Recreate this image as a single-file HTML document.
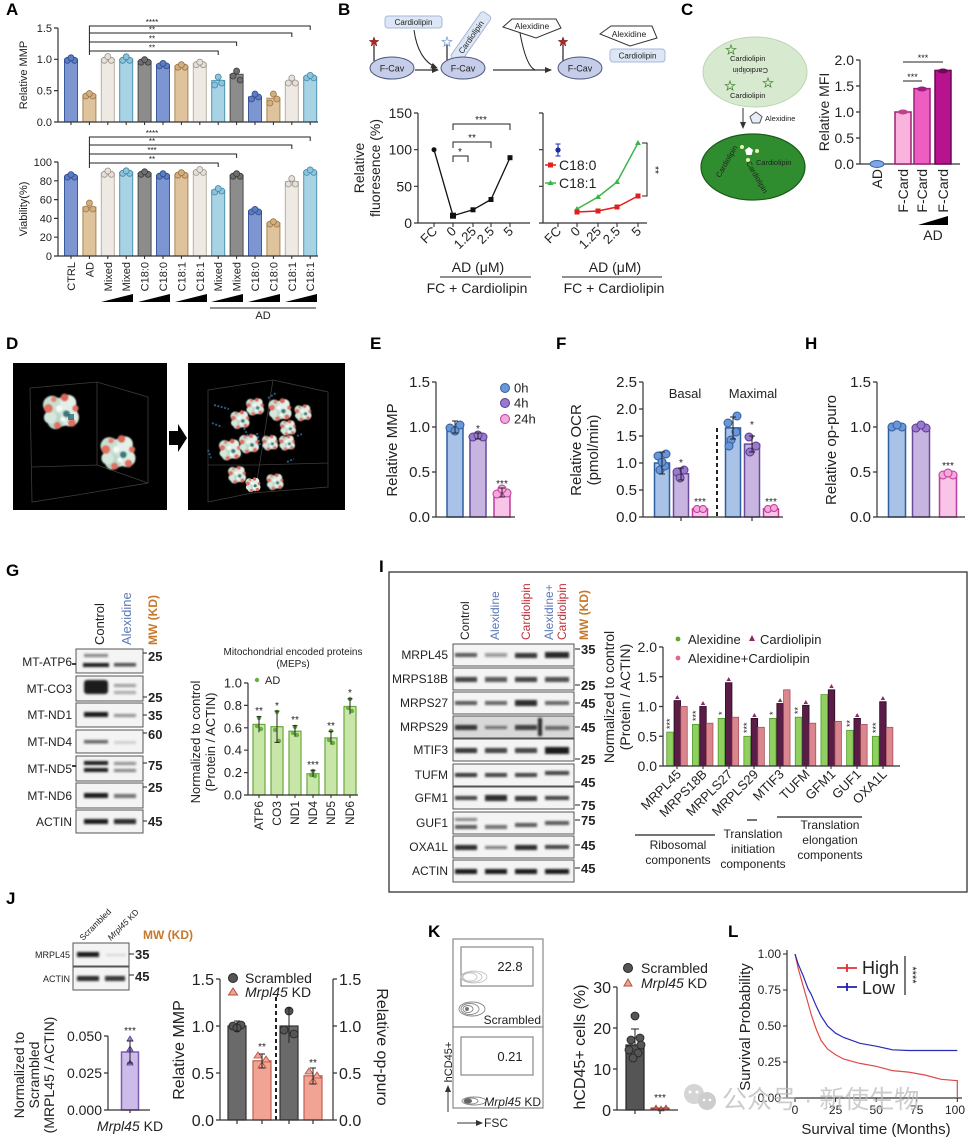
<!DOCTYPE html>
<html><head><meta charset="utf-8">
<style>
html,body{margin:0;padding:0;background:#fff;}
svg{display:block;}
text{font-family:"Liberation Sans","Noto Sans CJK SC",sans-serif;fill:#222;}
.ax{stroke:#333;stroke-width:1.2;fill:none;}
.ln{stroke:#222;stroke-width:1;fill:none;}
.lab{font-weight:bold;font-size:17px;fill:#000;}
.B{fill:#7d95d1;stroke:#3a5a9e;stroke-width:1}
.T{fill:#dfc39d;stroke:#a98552;stroke-width:1}
.W{fill:#efe9e4;stroke:#b8b0a8;stroke-width:1}
.L{fill:#a8d3e5;stroke:#4f93b2;stroke-width:1}
.G{fill:#8c8c8c;stroke:#4d4d4d;stroke-width:1}
.Bd{fill:#5c7cc4;stroke:#2d4a8a;stroke-width:.8}
.Td{fill:#d2ae80;stroke:#9a7444;stroke-width:.8}
.Wd{fill:#e6e0da;stroke:#9a9088;stroke-width:.8}
.Ld{fill:#8cc4dc;stroke:#3f86a6;stroke-width:.8}
.Gd{fill:#6e6e6e;stroke:#3a3a3a;stroke-width:.8}
.eb{fill:#a9c2e8;stroke:#2e5e9e;stroke-width:1.5}
.ep{fill:#c8b4e0;stroke:#6a4a9a;stroke-width:1.5}
.ek{fill:#f8c4e8;stroke:#c03a9a;stroke-width:1.5}
.dbl{fill:#6a96d8;stroke:#2e5e9e;stroke-width:1}
.dpu{fill:#9a7ad0;stroke:#5a3a8a;stroke-width:1}
.dpk{fill:#f4a8dc;stroke:#c03a9a;stroke-width:1}
.gb{fill:#c8e6a8;stroke:#6aa83a;stroke-width:1.2}
.gd{fill:#6ab040;stroke:none}
.ig{fill:#8fd060;stroke:#4f9a2a;stroke-width:.8}
.ip{fill:#5a1d48;stroke:#2a0820;stroke-width:.8}
.ik{fill:#d9868e;stroke:#a8505c;stroke-width:.8}
.blot{fill:#f4f4f4;stroke:#555;stroke-width:1}
.band{fill:#1a1a1a;}
.mw{fill:#c8782a;font-weight:bold;}
</style></head>
<body>
<svg width="974" height="1140" viewBox="0 0 974 1140" xmlns="http://www.w3.org/2000/svg" xmlns:xlink="http://www.w3.org/1999/xlink">
<defs>
<filter id="bl" x="-20%" y="-50%" width="140%" height="200%"><feGaussianBlur stdDeviation="1"/></filter>
<filter id="bl2" x="-30%" y="-30%" width="160%" height="160%"><feGaussianBlur stdDeviation=".5"/></filter>
<marker id="ah" markerWidth="8" markerHeight="8" refX="6" refY="4" orient="auto" markerUnits="userSpaceOnUse"><path d="M0,1 L7,4 L0,7 Z" fill="#333"/></marker>
<g id="blob" filter="url(#bl2)">
<circle cx="0" cy="0" r="8" fill="#cfe5d8"/>
<circle cx="-5" cy="-4" r="5" fill="#c8e0d3"/>
<circle cx="5" cy="3" r="5" fill="#dcede3"/>
<circle cx="-3" cy="5" r="4.5" fill="#bcd7c9"/>
<circle cx="4" cy="-5" r="4.5" fill="#e2f0e8"/>
<circle cx="-6" cy="3" r="3.5" fill="#d4e8dc"/>
<circle cx="-7" cy="-2" r="2.5" fill="#e07060"/>
<circle cx="6" cy="6" r="2.2" fill="#e07060"/>
<circle cx="2" cy="-8" r="2.2" fill="#d8685a"/>
<circle cx="-2" cy="7.5" r="2" fill="#e07060"/>
<circle cx="8" cy="-2" r="1.8" fill="#e07060"/>
<circle cx="-4" cy="-7" r="1.6" fill="#e88070"/>
<circle cx="3" cy="1" r="2" fill="#3a7a7a"/>
<circle cx="-1" cy="-2" r="1.8" fill="#f4faf6"/>
<circle cx="1" cy="4" r="1.4" fill="#f4faf6"/>
</g>
</defs>
<rect width="974" height="1140" fill="#fff"/>

<!-- ================= PANEL A ================= -->
<text class="lab" x="6" y="15">A</text>
<g>
<rect class="B" x="64.5" y="59.3" width="13" height="62.7"/>
<rect class="T" x="82.9" y="95" width="13" height="27"/>
<rect class="W" x="101.3" y="59.3" width="13" height="62.7"/>
<rect class="L" x="119.7" y="59.3" width="13" height="62.7"/>
<rect class="G" x="138.1" y="61.2" width="13" height="60.8"/>
<rect class="B" x="156.5" y="64.9" width="13" height="57.1"/>
<rect class="T" x="174.9" y="66.2" width="13" height="55.8"/>
<rect class="W" x="193.3" y="63.7" width="13" height="58.3"/>
<rect class="L" x="211.7" y="80.6" width="13" height="41.4"/>
<rect class="G" x="230.1" y="74.3" width="13" height="47.7"/>
<rect class="B" x="248.5" y="96.9" width="13" height="25.1"/>
<rect class="T" x="266.9" y="98.2" width="13" height="23.8"/>
<rect class="W" x="285.3" y="81.9" width="13" height="40.1"/>
<rect class="L" x="303.7" y="76.9" width="13" height="45.1"/>
<g>
<circle class="Bd" cx="67.5" cy="60.3" r="3"/><circle class="Bd" cx="74.5" cy="60.3" r="3"/><circle class="Bd" cx="71" cy="57.8" r="3"/>
<circle class="Td" cx="85.9" cy="96" r="3"/><circle class="Td" cx="92.9" cy="96" r="3"/><circle class="Td" cx="89.4" cy="93.5" r="3"/>
<circle class="Wd" cx="104.3" cy="60.3" r="3"/><circle class="Wd" cx="111.3" cy="60.3" r="3"/><circle class="Wd" cx="107.8" cy="56.5" r="3"/>
<circle class="Ld" cx="122.7" cy="60.3" r="3"/><circle class="Ld" cx="129.7" cy="60.3" r="3"/><circle class="Ld" cx="126.2" cy="56.8" r="3"/>
<circle class="Gd" cx="141.1" cy="62.2" r="3"/><circle class="Gd" cx="148.1" cy="62.2" r="3"/><circle class="Gd" cx="144.6" cy="59.7" r="3"/>
<circle class="Bd" cx="159.5" cy="65.9" r="3"/><circle class="Bd" cx="166.5" cy="65.9" r="3"/><circle class="Bd" cx="163" cy="63.4" r="3"/>
<circle class="Td" cx="177.9" cy="67.2" r="3"/><circle class="Td" cx="184.9" cy="67.2" r="3"/><circle class="Td" cx="181.4" cy="64.7" r="3"/>
<circle class="Wd" cx="196.3" cy="64.7" r="3"/><circle class="Wd" cx="203.3" cy="64.7" r="3"/><circle class="Wd" cx="199.8" cy="62.2" r="3"/>
<circle class="Ld" cx="214.7" cy="85" r="3"/><circle class="Ld" cx="221.7" cy="83" r="3"/><circle class="Ld" cx="218.2" cy="77" r="3"/>
<circle class="Gd" cx="233.1" cy="76" r="3"/><circle class="Gd" cx="240.1" cy="80" r="3"/><circle class="Gd" cx="236.6" cy="71" r="3"/>
<circle class="Bd" cx="251.5" cy="99" r="3"/><circle class="Bd" cx="258.5" cy="97" r="3"/><circle class="Bd" cx="255" cy="94" r="3"/>
<circle class="Td" cx="269.9" cy="103" r="3"/><circle class="Td" cx="276.9" cy="99" r="3"/><circle class="Td" cx="273.4" cy="94" r="3"/>
<circle class="Wd" cx="288.3" cy="83" r="3"/><circle class="Wd" cx="295.3" cy="83" r="3"/><circle class="Wd" cx="291.8" cy="78" r="3"/>
<circle class="Ld" cx="306.7" cy="77.9" r="3"/><circle class="Ld" cx="313.7" cy="77.9" r="3"/><circle class="Ld" cx="310.2" cy="75.4" r="3"/>
</g>
<path class="ax" d="M58,28 V122 H318 M54,28 H58 M54,59.3 H58 M54,90.6 H58 M54,122 H58"/>
<path class="ln" d="M71,122v3 M89.4,122v3 M107.8,122v3 M126.2,122v3 M144.6,122v3 M163,122v3 M181.4,122v3 M199.8,122v3 M218.2,122v3 M236.6,122v3 M255,122v3 M273.4,122v3 M291.8,122v3 M310.2,122v3"/>
<g font-size="11" text-anchor="end" fill="#333">
<text x="52" y="32">1.5</text><text x="52" y="63">1.0</text><text x="52" y="94.5">0.5</text><text x="52" y="126">0.0</text>
</g>
<text font-size="11" text-anchor="middle" transform="translate(27,75) rotate(-90)">Relative MMP</text>
<path class="ln" d="M89.4,55 V26 H310.2 V30 M89.4,33 H291.8 V37 M89.4,42 H236.6 V46 M89.4,51 H218.2 V55"/>
<g font-size="8" text-anchor="middle">
<text x="152" y="25">****</text><text x="152" y="32.5">**</text><text x="152" y="41.5">**</text><text x="152" y="50.5">**</text>
</g>
</g>
<g>
<rect class="B" x="64.5" y="176.1" width="13" height="79.9"/>
<rect class="T" x="82.9" y="207.1" width="13" height="48.9"/>
<rect class="W" x="101.3" y="173.3" width="13" height="82.7"/>
<rect class="L" x="119.7" y="172.3" width="13" height="83.7"/>
<rect class="G" x="138.1" y="173.3" width="13" height="82.7"/>
<rect class="B" x="156.5" y="175.2" width="13" height="80.8"/>
<rect class="T" x="174.9" y="174.2" width="13" height="81.8"/>
<rect class="W" x="193.3" y="171.4" width="13" height="84.6"/>
<rect class="L" x="211.7" y="190.2" width="13" height="65.8"/>
<rect class="G" x="230.1" y="175.2" width="13" height="80.8"/>
<rect class="B" x="248.5" y="210.9" width="13" height="45.1"/>
<rect class="T" x="266.9" y="223.1" width="13" height="32.9"/>
<rect class="W" x="285.3" y="181.7" width="13" height="74.3"/>
<rect class="L" x="303.7" y="171.4" width="13" height="84.6"/>
<g>
<circle class="Bd" cx="67.5" cy="177.1" r="3"/><circle class="Bd" cx="74.5" cy="177.1" r="3"/><circle class="Bd" cx="71" cy="174.6" r="3"/>
<circle class="Td" cx="85.9" cy="209" r="3"/><circle class="Td" cx="92.9" cy="209" r="3"/><circle class="Td" cx="89.4" cy="203" r="3"/>
<circle class="Wd" cx="104.3" cy="174.3" r="3"/><circle class="Wd" cx="111.3" cy="174.3" r="3"/><circle class="Wd" cx="107.8" cy="171" r="3"/>
<circle class="Ld" cx="122.7" cy="173.3" r="3"/><circle class="Ld" cx="129.7" cy="173.3" r="3"/><circle class="Ld" cx="126.2" cy="170.8" r="3"/>
<circle class="Gd" cx="141.1" cy="174.3" r="3"/><circle class="Gd" cx="148.1" cy="174.3" r="3"/><circle class="Gd" cx="144.6" cy="171.8" r="3"/>
<circle class="Bd" cx="159.5" cy="176.2" r="3"/><circle class="Bd" cx="166.5" cy="176.2" r="3"/><circle class="Bd" cx="163" cy="173.7" r="3"/>
<circle class="Td" cx="177.9" cy="175.2" r="3"/><circle class="Td" cx="184.9" cy="175.2" r="3"/><circle class="Td" cx="181.4" cy="172.7" r="3"/>
<circle class="Wd" cx="196.3" cy="172.4" r="3"/><circle class="Wd" cx="203.3" cy="172.4" r="3"/><circle class="Wd" cx="199.8" cy="169.5" r="3"/>
<circle class="Ld" cx="214.7" cy="192" r="3"/><circle class="Ld" cx="221.7" cy="191" r="3"/><circle class="Ld" cx="218.2" cy="188.5" r="3"/>
<circle class="Gd" cx="233.1" cy="176.2" r="3"/><circle class="Gd" cx="240.1" cy="176.2" r="3"/><circle class="Gd" cx="236.6" cy="173.7" r="3"/>
<circle class="Bd" cx="251.5" cy="211.9" r="3"/><circle class="Bd" cx="258.5" cy="211.9" r="3"/><circle class="Bd" cx="255" cy="209.4" r="3"/>
<circle class="Td" cx="269.9" cy="224.1" r="3"/><circle class="Td" cx="276.9" cy="224.1" r="3"/><circle class="Td" cx="273.4" cy="221.6" r="3"/>
<circle class="Wd" cx="288.3" cy="184" r="3"/><circle class="Wd" cx="295.3" cy="184" r="3"/><circle class="Wd" cx="291.8" cy="178.5" r="3"/>
<circle class="Ld" cx="306.7" cy="172.4" r="3"/><circle class="Ld" cx="313.7" cy="172.4" r="3"/><circle class="Ld" cx="310.2" cy="169.9" r="3"/>
</g>
<path class="ax" d="M58,162 V256 H318 M54,162 H58 M54,180.8 H58 M54,199.6 H58 M54,218.4 H58 M54,237.2 H58 M54,256 H58"/>
<path class="ln" d="M71,256v3 M89.4,256v3 M107.8,256v3 M126.2,256v3 M144.6,256v3 M163,256v3 M181.4,256v3 M199.8,256v3 M218.2,256v3 M236.6,256v3 M255,256v3 M273.4,256v3 M291.8,256v3 M310.2,256v3"/>
<g font-size="11" text-anchor="end" fill="#333">
<text x="52" y="166">100</text><text x="52" y="184.8">80</text><text x="52" y="203.6">60</text><text x="52" y="222.4">40</text><text x="52" y="241.2">20</text><text x="52" y="260">0</text>
</g>
<text font-size="11" text-anchor="middle" transform="translate(27,209) rotate(-90)">Viability(%)</text>
<path class="ln" d="M89.4,168 V137 H310.2 V141 M89.4,145 H291.8 V149 M89.4,154 H236.6 V158 M89.4,163 H218.2 V167"/>
<g font-size="8" text-anchor="middle">
<text x="152" y="136">****</text><text x="152" y="144">**</text><text x="152" y="153">***</text><text x="152" y="162">**</text>
</g>
<g font-size="11" text-anchor="end">
<text transform="translate(75,262) rotate(-90)">CTRL</text>
<text transform="translate(93.4,262) rotate(-90)">AD</text>
<text transform="translate(111.8,262) rotate(-90)">Mixed</text>
<text transform="translate(130.2,262) rotate(-90)">Mixed</text>
<text transform="translate(148.6,262) rotate(-90)">C18:0</text>
<text transform="translate(167,262) rotate(-90)">C18:0</text>
<text transform="translate(185.4,262) rotate(-90)">C18:1</text>
<text transform="translate(203.8,262) rotate(-90)">C18:1</text>
<text transform="translate(222.2,262) rotate(-90)">Mixed</text>
<text transform="translate(240.6,262) rotate(-90)">Mixed</text>
<text transform="translate(259,262) rotate(-90)">C18:0</text>
<text transform="translate(277.4,262) rotate(-90)">C18:0</text>
<text transform="translate(295.8,262) rotate(-90)">C18:1</text>
<text transform="translate(314.2,262) rotate(-90)">C18:1</text>
</g>
<g fill="#000">
<polygon points="101,302 133,302 133,294"/>
<polygon points="138,302 170,302 170,294"/>
<polygon points="175,302 207,302 207,294"/>
<polygon points="211,302 243,302 243,294"/>
<polygon points="248,302 280,302 280,294"/>
<polygon points="285,302 317,302 317,294"/>
</g>
<path class="ln" d="M210,308 H316"/>
<text font-size="11" x="263" y="319" text-anchor="middle">AD</text>
</g>

<!-- ================= PANEL B ================= -->
<text class="lab" x="338" y="15">B</text>
<g>
<rect x="385" y="16" width="57" height="12" rx="3" fill="#dce6f4" stroke="#a8b8d8"/>
<text x="413.5" y="25" font-size="8" text-anchor="middle" fill="#333">Cardiolipin</text>
<path d="M414,30 Q418,60 437,68" class="ln" stroke="#333" marker-end="url(#ah)"/>
<line x1="374" y1="45" x2="374" y2="61" stroke="#333" stroke-width="1.3"/>
<polygon points="374,37 375.2,40.4 378.8,40.5 375.9,42.6 376.9,46 374,44 371.1,46 372.1,42.6 369.2,40.5 372.8,40.4" fill="#b02828" stroke="#6a1010" stroke-width=".5"/>
<ellipse cx="392" cy="68" rx="22" ry="11" fill="#c5cde8" stroke="#4a557e" stroke-width="1"/>
<text x="392" y="71.5" font-size="9" text-anchor="middle">F-Cav</text>
<line x1="415" y1="70" x2="438" y2="70" stroke="#333" stroke-width="1.2" marker-end="url(#ah)"/>
<line x1="447" y1="45" x2="447" y2="61" stroke="#333" stroke-width="1.3"/>
<polygon points="447,37 448.2,40.4 451.8,40.5 448.9,42.6 449.9,46 447,44 444.1,46 445.1,42.6 442.2,40.5 445.8,40.4" fill="#fff" stroke="#7a9ad0" stroke-width=".8"/>
<g transform="translate(471,37) rotate(-55)">
<rect x="-28" y="-6" width="56" height="12" rx="3" fill="#dce6f4" stroke="#a8b8d8"/>
<text x="0" y="3" font-size="8" text-anchor="middle" fill="#333">Cardiolipin</text>
</g>
<ellipse cx="463" cy="68" rx="22" ry="11" fill="#c5cde8" stroke="#4a557e" stroke-width="1"/>
<text x="463" y="71.5" font-size="9" text-anchor="middle">F-Cav</text>
<line x1="493" y1="70" x2="551" y2="70" stroke="#333" stroke-width="1.2" marker-end="url(#ah)"/>
<polygon points="503,27 512,19 556,19 561,28 536,38" fill="#fff" stroke="#333" stroke-width="1"/>
<text x="532" y="29" font-size="8.5" text-anchor="middle">Alexidine</text>
<path d="M520,33 Q526,66 535,70" class="ln" stroke="#333"/>
<line x1="563" y1="45" x2="563" y2="61" stroke="#333" stroke-width="1.3"/>
<polygon points="563,37 564.2,40.4 567.8,40.5 564.9,42.6 565.9,46 563,44 560.1,46 561.1,42.6 558.2,40.5 561.8,40.4" fill="#b02828" stroke="#6a1010" stroke-width=".5"/>
<ellipse cx="580" cy="68" rx="22" ry="11" fill="#c5cde8" stroke="#4a557e" stroke-width="1"/>
<text x="580" y="71.5" font-size="9" text-anchor="middle">F-Cav</text>
<polygon points="600,34 611,26 652,26 657,38 630,46" fill="#fff" stroke="#333" stroke-width="1"/>
<text x="629" y="37" font-size="8.5" text-anchor="middle">Alexidine</text>
<rect x="610" y="49" width="55" height="13" rx="3" fill="#dce6f4" stroke="#a8b8d8"/>
<text x="637.5" y="58.5" font-size="8" text-anchor="middle" fill="#333">Cardiolipin</text>
</g>
<g>
<path class="ax" d="M418,113 V223 H530 M414,113 H418 M414,149.7 H418 M414,186.3 H418 M414,223 H418"/>
<path class="ln" d="M434,223v4 M453,223v4 M473,223v4 M491,223v4 M510,223v4"/>
<g font-size="14" text-anchor="end">
<text x="412" y="118">150</text><text x="412" y="154.7">100</text><text x="412" y="191.3">50</text><text x="412" y="228">0</text>
</g>
<text font-size="14" text-anchor="middle" transform="translate(364,168) rotate(-90)">Relative</text>
<text font-size="14" text-anchor="middle" transform="translate(380,168) rotate(-90)">fluoresence (%)</text>
<polyline points="434,149.7 453,215.7 473,209.8 491,199.5 510,157.7" fill="none" stroke="#111" stroke-width="1.3"/>
<g fill="#111">
<circle cx="434" cy="149.7" r="2.5"/><rect x="450" y="212.7" width="6" height="6"/><rect x="470.5" y="207.3" width="5" height="5"/><rect x="488.5" y="197" width="5" height="5"/><rect x="507.5" y="155.2" width="5" height="5"/>
</g>
<path class="ln" d="M453,130 V124 H510 V130 M453,148 V142 H491 V148 M453,162 V156 H468 V162"/>
<g font-size="10" text-anchor="middle">
<text x="481" y="123">***</text><text x="472" y="141">**</text><text x="460" y="155">*</text>
</g>
<g font-size="13" text-anchor="end">
<text transform="translate(438,232) rotate(-45)">FC</text>
<text transform="translate(457,232) rotate(-45)">0</text>
<text transform="translate(477,232) rotate(-45)">1.25</text>
<text transform="translate(495,232) rotate(-45)">2.5</text>
<text transform="translate(514,232) rotate(-45)">5</text>
</g>
<text x="478" y="272" font-size="14" text-anchor="middle">AD (μM)</text>
<line x1="440" y1="277" x2="531" y2="277" stroke="#222"/>
<text x="477" y="293" font-size="14" text-anchor="middle">FC + Cardiolipin</text>
</g>
<g>
<path class="ax" d="M543,113 V223 H647 M539,113 H543 M539,149.7 H543 M539,186.3 H543 M539,223 H543"/>
<path class="ln" d="M558,223v4 M577,223v4 M598,223v4 M617,223v4 M638,223v4"/>
<line x1="558" y1="144" x2="558" y2="156" stroke="#1a2aa0" stroke-width="1"/>
<line x1="555.5" y1="144" x2="560.5" y2="144" stroke="#1a2aa0"/><line x1="555.5" y1="156" x2="560.5" y2="156" stroke="#1a2aa0"/>
<circle cx="558" cy="150" r="2.6" fill="#1a2aa0"/>
<polyline points="577,209 598,197 617,182 638,143" fill="none" stroke="#3cb44a" stroke-width="1.5"/>
<g fill="#3cb44a"><polygon points="577,206 580,211 574,211"/><polygon points="598,194 601,199 595,199"/><polygon points="617,179 620,184 614,184"/><polygon points="638,140 641,145 635,145"/></g>
<polyline points="577,212 598,211 617,207 638,196" fill="none" stroke="#e02020" stroke-width="1.5"/>
<g fill="#e02020"><rect x="574.5" y="209.5" width="5" height="5"/><rect x="595.5" y="208.5" width="5" height="5"/><rect x="614.5" y="204.5" width="5" height="5"/><rect x="635.5" y="193.5" width="5" height="5"/></g>
<path class="ln" d="M642,143 H647 V196 H642"/>
<text font-size="10" text-anchor="middle" transform="translate(652,170) rotate(90)">**</text>
<line x1="545" y1="165" x2="556" y2="165" stroke="#e02020" stroke-width="1.5"/><rect x="548" y="162.5" width="5" height="5" fill="#e02020"/>
<text x="559" y="170" font-size="14">C18:0</text>
<line x1="545" y1="183" x2="556" y2="183" stroke="#3cb44a" stroke-width="1.5"/><polygon points="550.5,180 553.5,185 547.5,185" fill="#3cb44a"/>
<text x="559" y="188" font-size="14">C18:1</text>
<g font-size="13" text-anchor="end">
<text transform="translate(562,232) rotate(-45)">FC</text>
<text transform="translate(581,232) rotate(-45)">0</text>
<text transform="translate(602,232) rotate(-45)">1.25</text>
<text transform="translate(621,232) rotate(-45)">2.5</text>
<text transform="translate(642,232) rotate(-45)">5</text>
</g>
<text x="615" y="272" font-size="14" text-anchor="middle">AD (μM)</text>
<line x1="562" y1="277" x2="662" y2="277" stroke="#222"/>
<text x="614" y="293" font-size="14" text-anchor="middle">FC + Cardiolipin</text>
</g>

<!-- ================= PANEL C ================= -->
<text class="lab" x="681" y="15">C</text>
<g>
<ellipse cx="755" cy="72" rx="52" ry="35" fill="#d7e9cf" stroke="#bcd6b0"/>
<g fill="none" stroke="#4a8a3a" stroke-width=".8">
<polygon points="731,45 732.2,48.4 735.8,48.5 732.9,50.6 733.9,54 731,52 728.1,54 729.1,50.6 726.2,48.5 729.8,48.4"/>
<polygon points="768,78 769.2,81.4 772.8,81.5 769.9,83.6 770.9,87 768,85 765.1,87 766.1,83.6 763.2,81.5 766.8,81.4"/>
<polygon points="730,81 731.2,84.4 734.8,84.5 731.9,86.6 732.9,90 730,88 727.1,90 728.1,86.6 725.2,84.5 728.8,84.4"/>
</g>
<text x="730" y="61" font-size="7.5">Cardiolipin</text>
<text font-size="7.5" transform="translate(768,68) rotate(180)">Cardiolipin</text>
<text x="730" y="98" font-size="7.5">Cardiolipin</text>
<line x1="743" y1="108" x2="743" y2="128" stroke="#333" stroke-width="1" marker-end="url(#ah)"/>
<polygon points="756,112 762,116.5 759.7,123 752.3,123 750,116.5" fill="#e8eef8" stroke="#555" stroke-width="1"/>
<text x="765" y="121" font-size="7.5" fill="#444">Alexidine</text>
<ellipse cx="753" cy="167" rx="52" ry="33" fill="#2f8d2f" stroke="#1a5a1a" stroke-width="1.2"/>
<polygon points="749,147 753,150 751.5,155 746.5,155 745,150" fill="#fff"/>
<circle cx="742" cy="147" r="2" fill="#e8f2a8"/><circle cx="757" cy="151" r="2" fill="#e8f2a8"/><circle cx="748" cy="160" r="2" fill="#e8f2a8"/>
<text x="756" y="165" font-size="7.5" fill="#000">Cardiolipin</text>
<text font-size="7.5" fill="#000" transform="translate(720,178) rotate(-60)">Cardiolipin</text>
<text font-size="7.5" fill="#000" transform="translate(746,163) rotate(60)">Cardiolipin</text>
</g>
<g>
<path class="ax" d="M860,60 V164 H960 M856,60 H860 M856,86 H860 M856,112 H860 M856,138 H860 M856,164 H860"/>
<g font-size="14" text-anchor="end">
<text x="854" y="65">2.0</text><text x="854" y="91">1.5</text><text x="854" y="117">1.0</text><text x="854" y="143">0.5</text><text x="854" y="169">0.0</text>
</g>
<text font-size="14" text-anchor="middle" transform="translate(829,112) rotate(-90)">Relative MFI</text>
<ellipse cx="877" cy="164" rx="7" ry="3.5" fill="#80a8e0" stroke="#3060b0"/>
<rect x="895" y="112" width="16" height="52" fill="#f8b4dc" stroke="#a02070" stroke-width="1.5"/>
<rect x="914" y="88.6" width="16" height="75.4" fill="#ec5ec0" stroke="#a01c80" stroke-width="1.5"/>
<rect x="935" y="70.4" width="16" height="93.6" fill="#b8138e" stroke="#6a0850" stroke-width="1.5"/>
<ellipse cx="903" cy="112" rx="5" ry="2.5" fill="#c04090"/><ellipse cx="922" cy="89" rx="5" ry="2.5" fill="#a01c80"/><ellipse cx="943" cy="71" rx="5" ry="2.5" fill="#700858"/>
<path class="ln" d="M903,62 H943 M903,81 H922"/>
<g font-size="9" text-anchor="middle"><text x="923" y="61">***</text><text x="912.5" y="80">***</text></g>
<g font-size="14" text-anchor="end">
<text transform="translate(882,169) rotate(-90)">AD</text>
<text transform="translate(908,169) rotate(-90)">F-Card</text>
<text transform="translate(927,169) rotate(-90)">F-Card</text>
<text transform="translate(948,169) rotate(-90)">F-Card</text>
</g>
<polygon points="918,225 948,225 948,216" fill="#000"/>
<text x="933" y="240" font-size="14" text-anchor="middle">AD</text>
</g>

<!-- ================= PANEL D ================= -->
<text class="lab" x="6" y="349">D</text>
<rect x="13" y="363" width="154" height="147" fill="#000"/>
<rect x="188" y="363" width="157" height="147" fill="#000"/>
<polygon points="169,431 178,431 178,424 187,438 178,452 178,445 169,445" fill="#000"/>
<g stroke="#3c3c3c" stroke-width=".8" fill="none">
<path d="M30,388 L97,382 L148,397 L148,483 L77,495 L32,502 Z M97,382 L97,465 L32,467 M97,465 L148,483"/>
<path d="M208,390 L273,380 L328,392 L328,487 L252,493 L208,502 Z M273,380 L255,493 M208,465 L255,465 L328,463"/>
</g>
<use xlink:href="#blob" href="#blob" transform="translate(61,412) scale(1.8)"/>
<rect x="68" y="414" width="6" height="6" fill="#2a6a70" opacity=".8"/>
<use xlink:href="#blob" href="#blob" transform="translate(118,453) scale(1.75)"/>
<g stroke="#2a5a80" stroke-width="2" stroke-dasharray="2,1.5" fill="none">
<path d="M214,405 l15,4 M212,423 l10,4 M208,450 l3,8 M268,398 l8,-5 M244,428 l4,8 M257,433 l3,12 M287,462 l7,-3 M236,452 l6,4 M297,436 l5,-2"/>
</g>
<use xlink:href="#blob" href="#blob" transform="translate(240,420) scale(0.95)"/>
<use xlink:href="#blob" href="#blob" transform="translate(255,407) scale(0.9)"/>
<use xlink:href="#blob" href="#blob" transform="translate(280,410) scale(1.15)"/>
<use xlink:href="#blob" href="#blob" transform="translate(288,428) scale(0.8)"/>
<use xlink:href="#blob" href="#blob" transform="translate(303,413) scale(0.85)"/>
<use xlink:href="#blob" href="#blob" transform="translate(230,450) scale(1.1)"/>
<use xlink:href="#blob" href="#blob" transform="translate(249,444) scale(1.0)"/>
<use xlink:href="#blob" href="#blob" transform="translate(270,443) scale(0.8)"/>
<use xlink:href="#blob" href="#blob" transform="translate(287,443) scale(0.8)"/>
<use xlink:href="#blob" href="#blob" transform="translate(237,475) scale(0.9)"/>
<use xlink:href="#blob" href="#blob" transform="translate(253,485) scale(0.75)"/>
<use xlink:href="#blob" href="#blob" transform="translate(275,482) scale(0.85)"/>

<!-- ================= PANEL E ================= -->
<text class="lab" x="370" y="349">E</text>
<g>
<rect class="eb" x="447" y="427" width="16" height="90"/>
<rect class="ep" x="470" y="436" width="16" height="81"/>
<rect class="ek" x="494" y="492.7" width="16" height="24.3"/>
<circle class="dbl" cx="450" cy="428" r="4"/><circle class="dbl" cx="460" cy="425" r="4"/><circle class="dbl" cx="455" cy="431" r="4"/>
<circle class="dpu" cx="473" cy="437" r="4"/><circle class="dpu" cx="483" cy="437" r="4"/><circle class="dpu" cx="478" cy="435" r="4"/>
<circle class="dpk" cx="497" cy="494" r="4"/><circle class="dpk" cx="507" cy="493" r="4"/><circle class="dpk" cx="502" cy="489" r="4"/>
<path class="ln" d="M455,421 V433 M452,421 H458 M452,433 H458 M478,433 V439 M475,433 H481 M475,439 H481 M502,488 V497 M499,488 H505 M499,497 H505"/>
<path class="ax" d="M436,382 V517 H515 M432,382 H436 M432,427 H436 M432,472 H436 M432,517 H436"/>
<g font-size="15" text-anchor="end">
<text x="430" y="387">1.5</text><text x="430" y="432">1.0</text><text x="430" y="477">0.5</text><text x="430" y="522">0.0</text>
</g>
<text font-size="15" text-anchor="middle" transform="translate(397,450) rotate(-90)">Relative MMP</text>
<text x="478" y="432" font-size="10" text-anchor="middle">*</text>
<text x="502" y="487" font-size="10" text-anchor="middle">***</text>
<circle class="dbl" cx="505" cy="388" r="4.5"/><text x="514" y="392.5" font-size="13">0h</text>
<circle class="dpu" cx="505" cy="403" r="4.5"/><text x="514" y="407.5" font-size="13">4h</text>
<circle class="dpk" cx="505" cy="419" r="4.5"/><text x="514" y="423.5" font-size="13">24h</text>
</g>

<!-- ================= PANEL F ================= -->
<text class="lab" x="556" y="349">F</text>
<g>
<rect class="eb" x="654.5" y="463" width="15" height="54"/>
<rect class="ep" x="673.5" y="473.8" width="15" height="43.2"/>
<rect class="ek" x="692.5" y="508.9" width="15" height="8.1"/>
<rect class="eb" x="725.5" y="427.9" width="15" height="89.1"/>
<rect class="ep" x="744.5" y="444.1" width="15" height="72.9"/>
<rect class="ek" x="763.5" y="508.9" width="15" height="8.1"/>
<circle class="dbl" cx="658" cy="456" r="4"/><circle class="dbl" cx="666" cy="454" r="4"/><circle class="dbl" cx="660" cy="470" r="4"/><circle class="dbl" cx="665" cy="466" r="4"/><circle class="dbl" cx="662" cy="462" r="4"/>
<circle class="dpu" cx="677" cy="472" r="4"/><circle class="dpu" cx="684" cy="470" r="4"/><circle class="dpu" cx="680" cy="478" r="4"/>
<circle class="dpk" cx="697" cy="509" r="3.5"/><circle class="dpk" cx="703" cy="509" r="3.5"/>
<circle class="dbl" cx="728" cy="423" r="4"/><circle class="dbl" cx="737" cy="416" r="4"/><circle class="dbl" cx="731" cy="440" r="4"/><circle class="dbl" cx="736" cy="432" r="4"/><circle class="dbl" cx="729" cy="446" r="4"/>
<circle class="dpu" cx="749" cy="437" r="4"/><circle class="dpu" cx="756" cy="446" r="4"/><circle class="dpu" cx="750" cy="452" r="4"/>
<circle class="dpk" cx="768" cy="509" r="3.5"/><circle class="dpk" cx="774" cy="508" r="3.5"/>
<path class="ln" d="M662,452 V474 M659,452 H665 M659,474 H665 M681,468 V480 M678,468 H684 M678,480 H684 M733,417 V439 M730,417 H736 M730,439 H736 M752,436 V452 M749,436 H755 M749,452 H755"/>
<line x1="717" y1="428" x2="717" y2="517" stroke="#222" stroke-width="2" stroke-dasharray="4,3"/>
<path class="ax" d="M643,382 V517 H783 M639,382 H643 M639,409 H643 M639,436 H643 M639,463 H643 M639,490 H643 M639,517 H643 M681,517 v4 M752,517 v4"/>
<g font-size="15" text-anchor="end">
<text x="637" y="387">2.5</text><text x="637" y="414">2.0</text><text x="637" y="441">1.5</text><text x="637" y="468">1.0</text><text x="637" y="495">0.5</text><text x="637" y="522">0.0</text>
</g>
<text font-size="15" text-anchor="middle" transform="translate(581,450) rotate(-90)">Relative OCR</text>
<text font-size="15" text-anchor="middle" transform="translate(598,450) rotate(-90)">(pmol/min)</text>
<text x="685" y="398" font-size="13" text-anchor="middle">Basal</text>
<text x="753" y="398" font-size="13" text-anchor="middle">Maximal</text>
<g font-size="10" text-anchor="middle"><text x="681" y="466">*</text><text x="700" y="505">***</text><text x="752" y="428">*</text><text x="771" y="505">***</text></g>
</g>

<!-- ================= PANEL H ================= -->
<text class="lab" x="805" y="349">H</text>
<g>
<rect class="eb" x="888.5" y="427" width="17" height="90"/>
<rect class="ep" x="912.5" y="427.9" width="17" height="89.1"/>
<rect class="ek" x="939.5" y="474.7" width="17" height="42.3"/>
<circle class="dbl" cx="892" cy="427" r="4"/><circle class="dbl" cx="902" cy="427" r="4"/><circle class="dbl" cx="897" cy="425" r="4"/>
<circle class="dpu" cx="916" cy="428" r="4"/><circle class="dpu" cx="926" cy="428" r="4"/><circle class="dpu" cx="921" cy="425" r="4"/>
<circle class="dpk" cx="943" cy="475" r="4"/><circle class="dpk" cx="953" cy="475" r="4"/><circle class="dpk" cx="948" cy="473" r="4"/>
<path class="ax" d="M877,382 V517 H965 M873,382 H877 M873,427 H877 M873,472 H877 M873,517 H877"/>
<g font-size="15" text-anchor="end">
<text x="871" y="387">1.5</text><text x="871" y="432">1.0</text><text x="871" y="477">0.5</text><text x="871" y="522">0.0</text>
</g>
<text font-size="15" text-anchor="middle" transform="translate(836,450) rotate(-90)">Relative op-puro</text>
<text x="948" y="469" font-size="10" text-anchor="middle">***</text>
</g>

<!-- ================= PANEL G ================= -->
<text class="lab" x="6" y="576">G</text>
<g>
<text font-size="13" transform="translate(104,645) rotate(-90)">Control</text>
<text font-size="13" style="fill:#5a78b8" transform="translate(131,645) rotate(-90)">Alexidine</text>
<text font-size="12" class="mw" transform="translate(157,645) rotate(-90)">MW (KD)</text>
<rect class="blot" x="76" y="649" width="67" height="24"/>
<rect class="blot" x="76" y="676" width="67" height="25"/>
<rect class="blot" x="76" y="703" width="67" height="24"/>
<rect class="blot" x="76" y="730" width="67" height="23"/>
<rect class="blot" x="76" y="756" width="67" height="25"/>
<rect class="blot" x="76" y="783" width="67" height="25"/>
<rect class="blot" x="76" y="810" width="67" height="23"/>
<g class="band" filter="url(#bl)">
<rect x="84" y="654" width="24" height="3" opacity=".5"/><rect x="83" y="663" width="26" height="4"/><rect x="114" y="663" width="22" height="3.5" opacity=".75"/>
<rect x="84" y="680" width="24" height="14" rx="3"/><rect x="114" y="684" width="22" height="3" opacity=".4"/><rect x="114" y="691" width="22" height="3" opacity=".35"/>
<rect x="84" y="712" width="24" height="5"/><rect x="114" y="714" width="22" height="3" opacity=".45"/>
<rect x="84" y="740" width="24" height="3.5" opacity=".65"/><rect x="114" y="741" width="22" height="3" opacity=".15"/>
<rect x="84" y="761" width="24" height="4"/><rect x="84" y="768" width="24" height="4"/><rect x="114" y="762" width="22" height="3" opacity=".45"/><rect x="114" y="769" width="22" height="3" opacity=".5"/>
<rect x="84" y="793" width="24" height="5"/><rect x="114" y="794" width="22" height="4" opacity=".6"/>
<rect x="84" y="819" width="24" height="5"/><rect x="114" y="819" width="22" height="5" opacity=".9"/>
</g>
<g font-size="12" text-anchor="end">
<text x="72" y="666">MT-ATP6</text><text x="72" y="693">MT-CO3</text><text x="72" y="719">MT-ND1</text><text x="72" y="746">MT-ND4</text><text x="72" y="773">MT-ND5</text><text x="72" y="800">MT-ND6</text><text x="72" y="826">ACTIN</text>
</g>
<path d="M72,664 h4 M72,766 h4" stroke="#000" stroke-width="1.5"/>
<path class="ln" d="M143,653 h4 M143,697 h4 M143,715 h4 M143,733 h4 M143,763 h4 M143,787 h4 M143,821 h4"/>
<g font-size="13" class="mw">
<text x="148" y="661">25</text><text x="148" y="702">25</text><text x="148" y="720">35</text><text x="148" y="739">60</text><text x="148" y="770">75</text><text x="148" y="792">25</text><text x="148" y="826">45</text>
</g>
</g>
<g>
<text x="293" y="655" font-size="10" text-anchor="middle">Mitochondrial encoded proteins</text>
<text x="293" y="667" font-size="10" text-anchor="middle">(MEPs)</text>
<circle cx="257" cy="680" r="2.2" fill="#6ab040"/><text x="265" y="684" font-size="11">AD</text>
<rect class="gb" x="253" y="724.4" width="12" height="70.6"/>
<rect class="gb" x="271" y="726.7" width="12" height="68.3"/>
<rect class="gb" x="289" y="731.2" width="12" height="63.8"/>
<rect class="gb" x="307" y="773.7" width="12" height="21.3"/>
<rect class="gb" x="325" y="737.9" width="12" height="57.1"/>
<rect class="gb" x="344" y="706.5" width="12" height="88.5"/>
<g class="gd">
<circle cx="259" cy="718" r="2.2"/><circle cx="257" cy="726" r="2.2"/><circle cx="261" cy="729" r="2.2"/>
<circle cx="277" cy="712" r="2.2"/><circle cx="275" cy="730" r="2.2"/><circle cx="279" cy="741" r="2.2"/>
<circle cx="295" cy="727" r="2.2"/><circle cx="293" cy="733" r="2.2"/><circle cx="297" cy="735" r="2.2"/>
<circle cx="313" cy="771" r="2.2"/><circle cx="311" cy="775" r="2.2"/><circle cx="315" cy="776" r="2.2"/>
<circle cx="331" cy="731" r="2.2"/><circle cx="329" cy="740" r="2.2"/><circle cx="333" cy="743" r="2.2"/>
<circle cx="350" cy="699" r="2.2"/><circle cx="348" cy="708" r="2.2"/><circle cx="352" cy="711" r="2.2"/>
</g>
<path class="ln" d="M259,716.6 V732.2 M256.5,716.6 H261.5 M277,711 V742.4 M274.5,711 H279.5 M274.5,742.4 H279.5 M295,725.6 V736.8 M292.5,725.6 H297.5 M313,770.3 V777.1 M310.5,770.3 H315.5 M331,731.2 V744.6 M328.5,731.2 H333.5 M350,698.7 V714.3 M347.5,698.7 H352.5"/>
<g font-size="10" text-anchor="middle">
<text x="259" y="714">**</text><text x="277" y="709">*</text><text x="295" y="723">**</text><text x="313" y="768">***</text><text x="331" y="729">**</text><text x="350" y="696">*</text>
</g>
<path class="ax" d="M248,683 V795 H358 M244,683 H248 M244,705.4 H248 M244,727.8 H248 M244,750.2 H248 M244,772.6 H248 M244,795 H248"/>
<path class="ln" d="M259,795v3 M277,795v3 M295,795v3 M313,795v3 M331,795v3 M350,795v3"/>
<g font-size="13" text-anchor="end">
<text x="242" y="687.5">1.0</text><text x="242" y="709.9">0.8</text><text x="242" y="732.3">0.6</text><text x="242" y="754.7">0.4</text><text x="242" y="777.1">0.2</text><text x="242" y="799.5">0.0</text>
</g>
<text font-size="13" text-anchor="middle" transform="translate(200,742) rotate(-90)">Normalized to control</text>
<text font-size="13" text-anchor="middle" transform="translate(215,742) rotate(-90)">(Protein / ACTIN)</text>
<g font-size="12" text-anchor="end">
<text transform="translate(263,801) rotate(-90)">ATP6</text>
<text transform="translate(281,801) rotate(-90)">CO3</text>
<text transform="translate(299,801) rotate(-90)">ND1</text>
<text transform="translate(317,801) rotate(-90)">ND4</text>
<text transform="translate(335,801) rotate(-90)">ND5</text>
<text transform="translate(354,801) rotate(-90)">ND6</text>
</g>
</g>

<!-- ================= PANEL I ================= -->
<text class="lab" x="379" y="572">I</text>
<rect x="389" y="572" width="578" height="320" fill="none" stroke="#333" stroke-width="1.3"/>
<g>
<text font-size="12" transform="translate(469,640) rotate(-90)">Control</text>
<text font-size="12" style="fill:#5a78b8" transform="translate(499,640) rotate(-90)">Alexidine</text>
<text font-size="12" style="fill:#c0303a" transform="translate(530,640) rotate(-90)">Cardiolipin</text>
<text font-size="12" style="fill:#5a78b8" transform="translate(553,640) rotate(-90)">Alexidine+</text>
<text font-size="12" style="fill:#c0303a" transform="translate(566,640) rotate(-90)">Cardiolipin</text>
<text font-size="12" class="mw" transform="translate(588,640) rotate(-90)">MW (KD)</text>
<rect class="blot" x="453" y="644" width="121" height="22"/>
<rect class="blot" x="453" y="668" width="121" height="22"/>
<rect class="blot" x="453" y="692" width="121" height="22"/>
<rect x="453" y="716" width="121" height="22" fill="#d8d8d8" stroke="#555"/>
<rect class="blot" x="453" y="739" width="121" height="22"/>
<rect class="blot" x="453" y="764" width="121" height="22"/>
<rect class="blot" x="453" y="787" width="121" height="22"/>
<rect class="blot" x="453" y="812" width="121" height="22"/>
<rect class="blot" x="453" y="836" width="121" height="22"/>
<rect class="blot" x="453" y="860" width="121" height="22"/>
<g class="band" filter="url(#bl)">
<rect x="455" y="653" width="22" height="4" opacity=".7"/><rect x="485" y="653" width="22" height="4" opacity=".4"/><rect x="515" y="653" width="22" height="5" opacity=".85"/><rect x="545" y="652" width="24" height="6" opacity=".95"/>
<rect x="455" y="677" width="22" height="5" opacity=".8"/><rect x="485" y="677" width="22" height="5" opacity=".7"/><rect x="515" y="677" width="22" height="5" opacity=".8"/><rect x="545" y="677" width="24" height="5" opacity=".75"/>
<rect x="455" y="701" width="22" height="4" opacity=".7"/><rect x="485" y="701" width="22" height="4" opacity=".65"/><rect x="515" y="700" width="22" height="6" opacity=".9"/><rect x="545" y="701" width="24" height="4" opacity=".65"/>
<rect x="455" y="725" width="22" height="5" opacity=".85"/><rect x="485" y="726" width="22" height="3" opacity=".55"/><rect x="515" y="725" width="22" height="5" opacity=".8"/><rect x="538" y="718" width="4" height="18" opacity=".9"/><rect x="545" y="726" width="24" height="4" opacity=".6"/>
<rect x="455" y="748" width="22" height="5" opacity=".85"/><rect x="485" y="748" width="22" height="5" opacity=".8"/><rect x="515" y="748" width="22" height="5" opacity=".8"/><rect x="545" y="747" width="24" height="7" opacity="1"/>
<rect x="455" y="773" width="22" height="4" opacity=".85"/><rect x="485" y="773" width="22" height="4" opacity=".8"/><rect x="515" y="773" width="22" height="4" opacity=".8"/><rect x="545" y="771" width="24" height="4" opacity=".8"/>
<rect x="455" y="796" width="22" height="4" opacity=".8"/><rect x="485" y="795" width="22" height="6" opacity=".9"/><rect x="515" y="796" width="22" height="5" opacity=".85"/><rect x="545" y="796" width="24" height="4" opacity=".8"/>
<rect x="455" y="818" width="22" height="3" opacity=".5"/><rect x="455" y="825" width="22" height="4" opacity=".7"/><rect x="485" y="825" width="22" height="4" opacity=".6"/><rect x="515" y="823" width="22" height="4" opacity=".7"/><rect x="545" y="821" width="24" height="4" opacity=".7"/>
<rect x="455" y="845" width="22" height="5" opacity=".9"/><rect x="485" y="846" width="22" height="3" opacity=".55"/><rect x="515" y="845" width="22" height="5" opacity=".9"/><rect x="545" y="845" width="24" height="4" opacity=".8"/>
<rect x="455" y="869" width="22" height="5"/><rect x="485" y="869" width="22" height="5"/><rect x="515" y="869" width="22" height="5"/><rect x="545" y="869" width="24" height="5"/>
</g>
<g font-size="12" text-anchor="end">
<text x="448" y="659">MRPL45</text><text x="448" y="683">MRPS18B</text><text x="448" y="707">MRPS27</text><text x="448" y="731">MRPS29</text><text x="448" y="754">MTIF3</text><text x="448" y="779">TUFM</text><text x="448" y="802">GFM1</text><text x="448" y="827">GUF1</text><text x="448" y="851">OXA1L</text><text x="448" y="875">ACTIN</text>
</g>
<path class="ln" d="M575,649 h5 M575,685 h5 M575,703 h5 M575,727 h5 M575,759 h5 M575,782 h5 M575,805 h5 M575,820 h5 M575,845 h5 M575,868 h5"/>
<g font-size="13" class="mw">
<text x="581" y="654">35</text><text x="581" y="690">25</text><text x="581" y="708">45</text><text x="581" y="732">45</text><text x="581" y="764">25</text><text x="581" y="787">45</text><text x="581" y="810">75</text><text x="581" y="825">75</text><text x="581" y="850">45</text><text x="581" y="873">45</text>
</g>
</g>
<g>
<circle cx="678" cy="639" r="2.4" fill="#5aaa30"/><text x="688" y="644" font-size="13">Alexidine</text>
<polygon points="752,635 755,641 749,641" fill="#8a2a6a"/><text x="760" y="644" font-size="13">Cardiolipin</text>
<circle cx="678" cy="658" r="2.4" fill="#e06a8a"/><text x="688" y="663" font-size="13">Alexidine+Cardiolipin</text>
<rect class="ig" x="666.75" y="732.1" width="6.5" height="33.9"/><rect class="ip" x="674.05" y="700.6" width="6.5" height="65.4"/><rect class="ik" x="680.75" y="706.5" width="6.5" height="59.5"/>
<rect class="ig" x="692.45" y="724.4" width="6.5" height="41.6"/><rect class="ip" x="699.75" y="706.5" width="6.5" height="59.5"/><rect class="ik" x="706.45" y="723.2" width="6.5" height="42.8"/>
<rect class="ig" x="718.15" y="718.4" width="6.5" height="47.6"/><rect class="ip" x="725.45" y="682.7" width="6.5" height="83.3"/><rect class="ik" x="732.15" y="717.2" width="6.5" height="48.8"/>
<rect class="ig" x="743.85" y="736.3" width="6.5" height="29.7"/><rect class="ip" x="751.15" y="718.4" width="6.5" height="47.6"/><rect class="ik" x="757.85" y="727.3" width="6.5" height="38.7"/>
<rect class="ig" x="769.55" y="718.4" width="6.5" height="47.6"/><rect class="ip" x="776.85" y="703.5" width="6.5" height="62.5"/><rect class="ik" x="783.55" y="689.8" width="6.5" height="76.2"/>
<rect class="ig" x="795.25" y="717.2" width="6.5" height="48.8"/><rect class="ip" x="802.55" y="705.3" width="6.5" height="60.7"/><rect class="ik" x="809.25" y="723.2" width="6.5" height="42.8"/>
<rect class="ig" x="820.95" y="694.6" width="6.5" height="71.4"/><rect class="ip" x="828.25" y="689.8" width="6.5" height="76.2"/><rect class="ik" x="834.95" y="721.4" width="6.5" height="44.6"/>
<rect class="ig" x="846.65" y="730.3" width="6.5" height="35.7"/><rect class="ip" x="853.95" y="718.4" width="6.5" height="47.6"/><rect class="ik" x="860.65" y="724.4" width="6.5" height="41.6"/>
<rect class="ig" x="872.35" y="736.3" width="6.5" height="29.7"/><rect class="ip" x="879.65" y="701.7" width="6.5" height="64.3"/><rect class="ik" x="886.35" y="727.3" width="6.5" height="38.7"/>
<g fill="#8a2a6a">
<polygon points="677.3,695 679.5,699 675.1,699"/><polygon points="703,701 705.2,705 700.8,705"/><polygon points="728.7,677 730.9,681 726.5,681"/><polygon points="754.4,713 756.6,717 752.2,717"/><polygon points="780.1,698 782.3,702 777.9,702"/><polygon points="805.8,700 808,704 803.6,704"/><polygon points="831.5,684 833.7,688 829.3,688"/><polygon points="857.2,713 859.4,717 855,717"/><polygon points="882.9,696 885.1,700 880.7,700"/>
</g>
<g font-size="9" text-anchor="start">
<text transform="translate(673,729) rotate(-90)">***</text>
<text transform="translate(699,721) rotate(-90)">***</text>
<text transform="translate(725,715) rotate(-90)">*</text>
<text transform="translate(750,733) rotate(-90)">***</text>
<text transform="translate(776,715) rotate(-90)">*</text>
<text transform="translate(801,714) rotate(-90)">**</text>
<text transform="translate(853,727) rotate(-90)">**</text>
<text transform="translate(879,733) rotate(-90)">***</text>
</g>
<path class="ax" d="M663,647 V766 H900 M659,647 H663 M659,676.75 H663 M659,706.5 H663 M659,736.25 H663 M659,766 H663"/>
<path class="ln" d="M677,766v3 M703,766v3 M729,766v3 M754,766v3 M780,766v3 M806,766v3 M831,766v3 M857,766v3 M883,766v3"/>
<g font-size="14" text-anchor="end">
<text x="657" y="652">2.0</text><text x="657" y="681.75">1.5</text><text x="657" y="711.5">1.0</text><text x="657" y="741.25">0.5</text><text x="657" y="771">0.0</text>
</g>
<text font-size="14" text-anchor="middle" transform="translate(614,697) rotate(-90)">Normalized to control</text>
<text font-size="14" text-anchor="middle" transform="translate(630,697) rotate(-90)">(Protein / ACTIN)</text>
<g font-size="13" text-anchor="end">
<text transform="translate(682,775) rotate(-45)">MRPL45</text>
<text transform="translate(707.7,775) rotate(-45)">MRPS18B</text>
<text transform="translate(733.4,775) rotate(-45)">MRPLS27</text>
<text transform="translate(759.1,775) rotate(-45)">MRPLS29</text>
<text transform="translate(784.8,775) rotate(-45)">MTIF3</text>
<text transform="translate(810.5,775) rotate(-45)">TUFM</text>
<text transform="translate(836.2,775) rotate(-45)">GFM1</text>
<text transform="translate(861.9,775) rotate(-45)">GUF1</text>
<text transform="translate(887.6,775) rotate(-45)">OXA1L</text>
</g>
<path d="M635,835 H715 M747,820 H757 M777,817 H862" stroke="#222" stroke-width="1.2"/>
<g font-size="12" text-anchor="middle">
<text x="678" y="849">Ribosomal</text><text x="678" y="864">components</text>
<text x="753" y="838">Translation</text><text x="753" y="853">initiation</text><text x="753" y="868">components</text>
<text x="830" y="829">Translation</text><text x="830" y="844">elongation</text><text x="830" y="859">components</text>
</g>
</g>

<!-- ================= PANEL J ================= -->
<text class="lab" x="6" y="904">J</text>
<g>
<text font-size="8.5" transform="translate(83,941) rotate(-45)">Scrambled</text>
<text font-size="8.5" transform="translate(111,941) rotate(-45)"><tspan font-style="italic">Mrpl45</tspan> KD</text>
<text x="143" y="939" font-size="12" class="mw">MW (KD)</text>
<rect class="blot" x="73" y="943" width="56" height="23"/>
<rect class="blot" x="73" y="967" width="56" height="23"/>
<g class="band" filter="url(#bl)">
<rect x="77" y="952" width="22" height="5"/><rect x="106" y="954" width="20" height="2" opacity=".12"/>
<rect x="77" y="976" width="22" height="5" opacity=".9"/><rect x="105" y="976" width="20" height="5" opacity=".85"/>
</g>
<g font-size="9" text-anchor="end"><text x="70" y="958">MRPL45</text><text x="70" y="982">ACTIN</text></g>
<path class="ln" d="M129,954 h5 M129,975 h5"/>
<g font-size="13" class="mw"><text x="135" y="959">35</text><text x="135" y="981">45</text></g>
</g>
<g>
<rect x="121.5" y="1052" width="17" height="58" fill="#cdbbea" stroke="#7a5cb0" stroke-width="1.5"/>
<g fill="#9a80cc" stroke="#5a3c90" stroke-width=".8"><polygon points="130,1036 133,1041 127,1041"/><polygon points="130,1046 133,1051 127,1051"/><polygon points="130,1060 133,1065 127,1065"/></g>
<path class="ln" d="M130,1041 V1063 M127,1041 H133 M127,1063 H133"/>
<text x="130" y="1034" font-size="10" text-anchor="middle">***</text>
<path class="ax" d="M108,1036 V1110 H150 M104,1036 H108 M104,1073 H108 M104,1110 H108 M130,1110 v3"/>
<g font-size="14" text-anchor="end"><text x="102" y="1041">0.050</text><text x="102" y="1078">0.025</text><text x="102" y="1115">0.000</text></g>
<text x="130" y="1131" font-size="14" text-anchor="middle"><tspan font-style="italic">Mrpl45</tspan> KD</text>
<g font-size="14" text-anchor="middle">
<text transform="translate(24,1075) rotate(-90)">Normalized to</text>
<text transform="translate(39,1075) rotate(-90)">Scrambled</text>
<text transform="translate(54,1075) rotate(-90)">(MRPL45 / ACTIN)</text>
</g>
</g>
<g>
<rect x="228" y="1026" width="18" height="94" fill="#6a6a6a" stroke="#333" stroke-width="1.2"/>
<rect x="253" y="1060.8" width="18" height="59.2" fill="#f2a494" stroke="#c06050" stroke-width="1.2"/>
<rect x="280" y="1026" width="18" height="94" fill="#6a6a6a" stroke="#333" stroke-width="1.2"/>
<rect x="304" y="1075.8" width="18" height="44.2" fill="#f2a494" stroke="#c06050" stroke-width="1.2"/>
<g fill="#555" stroke="#222" stroke-width=".8"><circle cx="233" cy="1026" r="4"/><circle cx="241" cy="1025" r="4"/><circle cx="237" cy="1028" r="4"/><circle cx="289" cy="1011" r="4"/><circle cx="284" cy="1030" r="4"/><circle cx="294" cy="1034" r="4"/></g>
<g fill="#f2a494" stroke="#b05040" stroke-width=".8"><polygon points="258,1052 262,1058 254,1058"/><polygon points="266,1056 270,1062 262,1062"/><polygon points="262,1062 266,1068 258,1068"/><polygon points="309,1068 313,1074 305,1074"/><polygon points="317,1072 321,1078 313,1078"/><polygon points="313,1078 317,1084 309,1084"/></g>
<path class="ln" d="M237,1021 V1031 M234,1021 H240 M234,1031 H240 M262,1054 V1068 M259,1054 H265 M259,1068 H265 M289,1008 V1043 M286,1008 H292 M313,1068 V1084 M310,1068 H316 M310,1084 H316"/>
<line x1="276" y1="997" x2="276" y2="1120" stroke="#222" stroke-width="2" stroke-dasharray="4,3"/>
<path class="ax" d="M220,979 V1120 H333 V979 M216,979 H220 M216,1026 H220 M216,1073 H220 M216,1120 H220 M333,979 H337 M333,1026 H337 M333,1073 H337 M333,1120 H337 M237,1120 v4 M262,1120 v4 M289,1120 v4 M313,1120 v4"/>
<g font-size="16" text-anchor="end"><text x="214" y="985">1.5</text><text x="214" y="1032">1.0</text><text x="214" y="1079">0.5</text><text x="214" y="1126">0.0</text></g>
<g font-size="16"><text x="339" y="985">1.5</text><text x="339" y="1032">1.0</text><text x="339" y="1079">0.5</text><text x="339" y="1126">0.0</text></g>
<text font-size="16" text-anchor="middle" transform="translate(184,1050) rotate(-90)">Relative MMP</text>
<text font-size="16" text-anchor="middle" transform="translate(377,1047) rotate(90)">Relative op-puro</text>
<text x="262" y="1050" font-size="10" text-anchor="middle">**</text>
<text x="313" y="1066" font-size="10" text-anchor="middle">**</text>
<circle cx="233" cy="978" r="4.5" fill="#555" stroke="#222"/><text x="245" y="983" font-size="14">Scrambled</text>
<polygon points="233,988 237.5,995 228.5,995" fill="#f2a494" stroke="#b05040"/><text x="245" y="997" font-size="14"><tspan font-style="italic">Mrpl45</tspan> KD</text>
</g>

<!-- ================= PANEL K ================= -->
<text class="lab" x="428" y="937">K</text>
<g>
<rect x="453" y="939" width="90" height="88" fill="#fff" stroke="#888" stroke-width="1.2"/>
<rect x="453" y="1027" width="90" height="81" fill="#fff" stroke="#888" stroke-width="1.2"/>
<rect x="461" y="947" width="72" height="39" fill="none" stroke="#888" stroke-width="1.2"/>
<rect x="461" y="1037" width="72" height="38" fill="none" stroke="#888" stroke-width="1.2"/>
<g fill="none" stroke="#bbb" stroke-width=".8">
<ellipse cx="474" cy="977" rx="13" ry="6"/><ellipse cx="472" cy="977" rx="10" ry="5"/><ellipse cx="470" cy="977" rx="7" ry="4"/>
</g>
<g fill="none" stroke="#888" stroke-width=".9">
<ellipse cx="472" cy="1009" rx="13" ry="7"/><ellipse cx="470" cy="1009" rx="9" ry="5.5"/><ellipse cx="468" cy="1009" rx="5" ry="3.5"/>
<ellipse cx="474" cy="1101" rx="12" ry="4"/><ellipse cx="471" cy="1101" rx="7" ry="3"/>
</g>
<circle cx="467" cy="1009" r="2" fill="#777"/><ellipse cx="468" cy="1101" rx="4" ry="2.5" fill="#666"/>
<text x="510" y="971" font-size="13" text-anchor="middle" fill="#333">22.8</text>
<text x="510" y="1061" font-size="13" text-anchor="middle" fill="#333">0.21</text>
<text x="541" y="1024" font-size="12" text-anchor="end" fill="#333">Scrambled</text>
<text x="541" y="1106" font-size="12" text-anchor="end" fill="#333"><tspan font-style="italic">Mrpl45</tspan> KD</text>
<line x1="448" y1="1112" x2="448" y2="1086" stroke="#333" stroke-width="1" marker-end="url(#ah)"/>
<text font-size="11" text-anchor="middle" transform="translate(452,1062) rotate(-90)" fill="#333">hCD45+</text>
<line x1="457" y1="1123" x2="482" y2="1123" stroke="#333" stroke-width="1" marker-end="url(#ah)"/>
<text x="484" y="1127" font-size="12" fill="#333">FSC</text>
</g>
<g>
<rect x="626" y="1045" width="18" height="65" fill="#555" stroke="#222" stroke-width="1.2"/>
<g fill="#555" stroke="#222" stroke-width=".8"><circle cx="635" cy="1016" r="4"/><circle cx="631" cy="1040" r="4"/><circle cx="640" cy="1038" r="4"/><circle cx="629" cy="1050" r="4"/><circle cx="638" cy="1053" r="4"/><circle cx="633" cy="1058" r="4"/><circle cx="641" cy="1045" r="4"/></g>
<path class="ln" d="M635,1029 V1045 M631,1029 H639"/>
<rect x="651" y="1108" width="18" height="2" fill="#c06050" stroke="#8a3a30"/>
<g fill="#c06050" stroke="#8a3a30" stroke-width=".6"><polygon points="656,1105 659,1110 653,1110"/><polygon points="661,1106 664,1111 658,1111"/><polygon points="666,1105 669,1110 663,1110"/></g>
<text x="660" y="1101" font-size="10" text-anchor="middle">***</text>
<path class="ax" d="M617,987 V1110 H678 M613,987 H617 M613,1028 H617 M613,1069 H617 M613,1110 H617 M635,1110 v4 M660,1110 v4"/>
<g font-size="16" text-anchor="end"><text x="611" y="993">30</text><text x="611" y="1034">20</text><text x="611" y="1075">10</text><text x="611" y="1116">0</text></g>
<text font-size="16" text-anchor="middle" transform="translate(585,1047) rotate(-90)">hCD45+ cells (%)</text>
<circle cx="628" cy="968" r="4.5" fill="#555" stroke="#222"/><text x="641" y="973" font-size="14">Scrambled</text>
<polygon points="628,979 632,986 624,986" fill="#f2a494" stroke="#b05040"/><text x="641" y="988" font-size="14"><tspan font-style="italic">Mrpl45</tspan> KD</text>
</g>

<!-- ================= PANEL L ================= -->
<text class="lab" x="728" y="937">L</text>
<g>
<path class="ax" d="M787,950 V1098 H962"/>
<path class="ln" d="M783,954 h4 M783,990 h4 M783,1026 h4 M783,1062 h4 M783,1098 h4 M795,1098 v4 M835.6,1098 v4 M876.2,1098 v4 M916.7,1098 v4 M957.3,1098 v4"/>
<g font-size="12" text-anchor="end" fill="#333"><text x="781" y="958">1.00</text><text x="781" y="994">0.75</text><text x="781" y="1030">0.50</text><text x="781" y="1066">0.25</text><text x="781" y="1102">0.00</text></g>
<g font-size="12" text-anchor="middle" fill="#333"><text x="795" y="1114">0</text><text x="835.6" y="1114">25</text><text x="876.2" y="1114">50</text><text x="916.7" y="1114">75</text><text x="955" y="1114">100</text></g>
<text font-size="15" text-anchor="middle" transform="translate(750,1027) rotate(-90)">Survival Probability</text>
<text x="876" y="1134" font-size="15" text-anchor="middle">Survival time (Months)</text>
<polyline fill="none" stroke="#e04848" stroke-width="1.2" points="795,954 798.2,968.4 803.1,985.7 808,1003 811.2,1014.5 816.1,1028.9 821,1040.4 827.5,1049 835.6,1054.8 843.7,1059.1 859.9,1063.4 876.2,1066.3 892.4,1070.6 908.6,1072.1 924.8,1075 941.1,1079.3 957.3,1080.7 957.3,1098"/>
<polyline fill="none" stroke="#2a2ab8" stroke-width="1.2" points="795,954 798.2,964.1 803.1,975.6 808,988.6 811.2,994.3 816.1,1005.8 821,1015.9 827.5,1026 835.6,1033.2 843.7,1037.5 859.9,1043.3 876.2,1046.2 892.4,1049.8 908.6,1050.5 957.3,1050.5"/>
<path d="M837,968 H857 M847,964 V972" stroke="#e03030" stroke-width="1.8"/>
<text x="862" y="974" font-size="18">High</text>
<path d="M837,987 H857 M847,983 V991" stroke="#2020b0" stroke-width="1.8"/>
<text x="862" y="994" font-size="18">Low</text>
<line x1="905" y1="956" x2="905" y2="995" stroke="#222" stroke-width="1.2"/>
<text font-size="11" text-anchor="middle" transform="translate(909,975) rotate(90)">****</text>
</g>

<!-- watermark -->
<g opacity=".75">
<circle cx="694" cy="1094" r="10" fill="#c8c8c8"/>
<circle cx="707" cy="1101" r="9" fill="#bdbdbd"/>
<circle cx="690" cy="1092" r="1.5" fill="#fff"/><circle cx="697" cy="1092" r="1.5" fill="#fff"/>
<circle cx="704" cy="1100" r="1.3" fill="#fff"/><circle cx="710" cy="1100" r="1.3" fill="#fff"/>
<text x="722" y="1108" font-size="25" style="fill:#bcbcbc" font-family="'Liberation Sans','Noto Sans CJK SC',sans-serif">公众号 · 新使生物</text>
</g>
</svg>
</body></html>
